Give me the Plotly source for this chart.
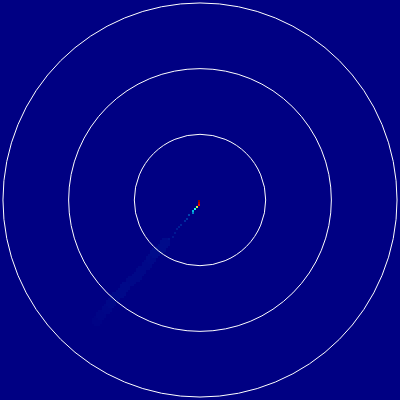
##########################################
## Plotly - Heatmap with reference rings
##########################################

import numpy as np
import plotly.graph_objs as go

## ring radii (same units as the heatmap axes)
ring_radii = [1, 2, 3]

## bright core of the streak, one cell per sample
core_u = [-0.01, -0.02, -0.03, -0.05, -0.08, -0.10, -0.12, -0.16, -0.20, -0.24,
          -0.28, -0.31, -0.35, -0.38, -0.42, -0.46]
core_v = [-0.02, -0.05, -0.08, -0.11, -0.14, -0.17, -0.21, -0.24, -0.28, -0.32,
          -0.37, -0.41, -0.45, -0.50, -0.55, -0.60]
core_z = [1.00, 0.92, 0.80, 0.55, 0.42, 0.33, 0.27, 0.21, 0.17, 0.14,
          0.12, 0.10, 0.09, 0.08, 0.07, 0.06]

## faint wide tail of the streak
tail_u = [-0.52, -0.59, -0.67, -0.75, -0.82, -0.90, -0.97, -1.05, -1.13, -1.20,
          -1.28, -1.35, -1.43, -1.51, -1.58]
tail_v = [-0.65, -0.74, -0.82, -0.91, -0.99, -1.07, -1.16, -1.24, -1.32, -1.41,
          -1.49, -1.58, -1.66, -1.74, -1.83]
tail_z = [0.035, 0.035, 0.04, 0.03, 0.025, 0.025, 0.025, 0.025, 0.03, 0.03,
          0.03, 0.025, 0.02, 0.015, 0.01]

## grid
half = 3.045
n = 200
edges = np.linspace(-half, half, n + 1)
centers = (edges[:-1] + edges[1:]) / 2
cell = edges[1] - edges[0]
z = np.zeros((n, n))


def cell_index(u, v):
    return int((v + half) / cell), int((u + half) / cell)


for u, v, val in zip(tail_u, tail_v, tail_z):
    r, c = cell_index(u, v)
    for dr in range(-2, 3):
        for dc in range(-2, 3):
            if dr * dr + dc * dc <= 5:
                z[r + dr, c + dc] = max(z[r + dr, c + dc], val)

for u, v, val in zip(core_u, core_v, core_z):
    r, c = cell_index(u, v)
    z[r, c] = max(z[r, c], val)

trace = go.Heatmap(
    x=centers,
    y=centers,
    z=z,
    colorscale='Jet',
    zmin=0,
    zmax=1,
    showscale=False,
    hoverinfo='skip')

rings = [dict(type='circle', xref='x', yref='y',
              x0=-r, y0=-r, x1=r, y1=r,
              line=dict(color='white', width=1))
         for r in ring_radii]

layout = go.Layout(
    width=400, height=400,
    margin=dict(l=0, r=0, t=0, b=0),
    xaxis=dict(visible=False, range=[-half, half]),
    yaxis=dict(visible=False, range=[-half, half]),
    shapes=rings,
    plot_bgcolor='rgb(0,0,131)',
    paper_bgcolor='rgb(0,0,131)')

fig = go.Figure(data=[trace], layout=layout)
## drop the page margin so the chart fills the window, no modebar
fig.write_html("out.html",
               config={'displayModeBar': False},
               post_script="document.body.style.margin='0';")
